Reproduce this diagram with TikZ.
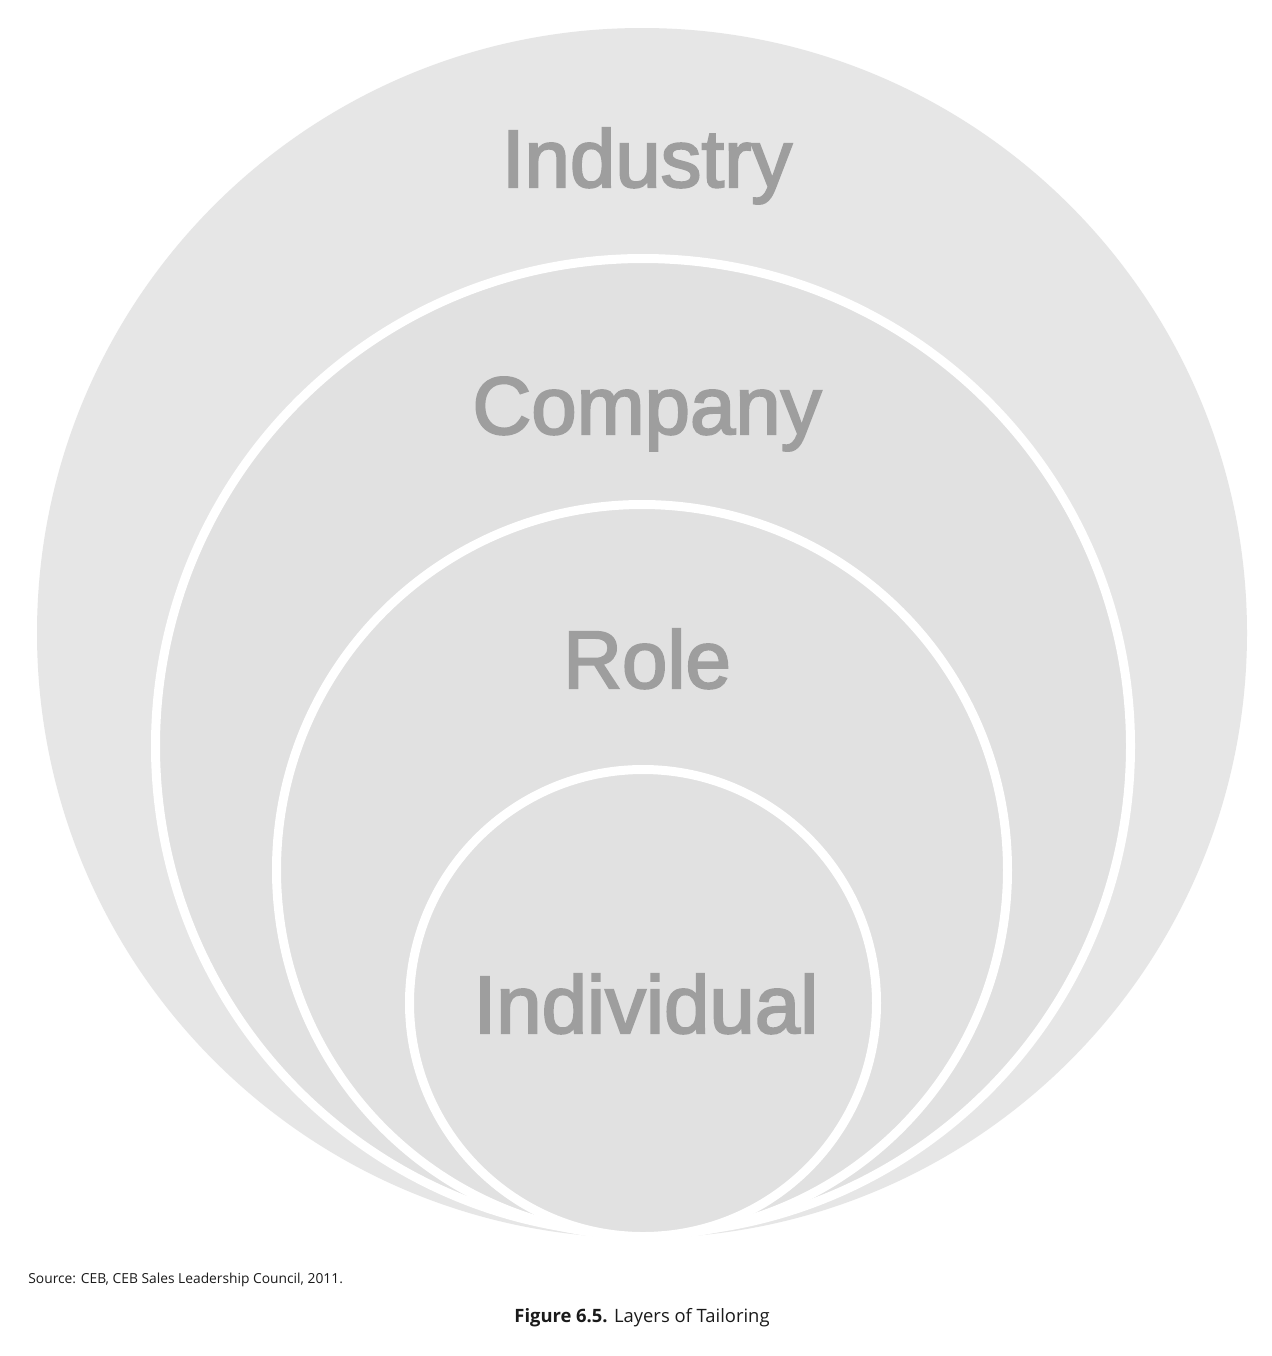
\documentclass[tikz,border=0pt]{standalone}
\usepackage{fontspec}
\setmainfont{Liberation Sans}
\newfontfamily\layerfont[FakeBold=2.5]{Liberation Sans}
\newfontfamily\capfont{Open Sans}
\definecolor{outerfill}{HTML}{E6E6E6}
\definecolor{innerfill}{HTML}{E1E1E1}
\definecolor{labelgray}{HTML}{9E9E9E}
\definecolor{captext}{HTML}{1A1A1A}
\begin{document}
\begin{tikzpicture}[x=0.5pt,y=-0.5pt,
  ring/.style={circle, inner sep=0pt, fill=innerfill, draw=white, line width=4.5pt},
  layer/.style={text=labelgray, font=\layerfont\fontsize{40.8}{44}\selectfont, inner sep=0pt, anchor=base}]
\useasboundingbox[fill=white] (0,0) rectangle (1272,1356);
\node[circle, inner sep=0pt, fill=outerfill, minimum size=605pt] (industryc) at (642,633) {};
\node[ring, minimum size={492pt-4.5pt}] (companyc) at (643,746) {};
\node[ring, minimum size={370pt-4.5pt}] (rolec) at (642,870) {};
\node[ring, minimum size={238pt-4.5pt}] (individualc) at (643,1003) {};
\node[layer] (industry) at (647,187) {Industry};
\node[layer] (company) at (647,434) {Company};
\node[layer] (role) at (647,688) {Role};
\node[layer] (individual) at (646,1033) {Individual};
\node[anchor=base west, inner sep=0pt, text=captext, font=\capfont\fontsize{6.9}{8}\selectfont] (source) at (28,1283) {Source: CEB, CEB Sales Leadership Council, 2011.};
\node[anchor=base, inner sep=0pt, text=captext, font=\capfont\fontsize{9.2}{11}\selectfont] (caption) at (642,1322) {\textbf{Figure 6.5.} Layers of Tailoring};
\end{tikzpicture}
\end{document}
